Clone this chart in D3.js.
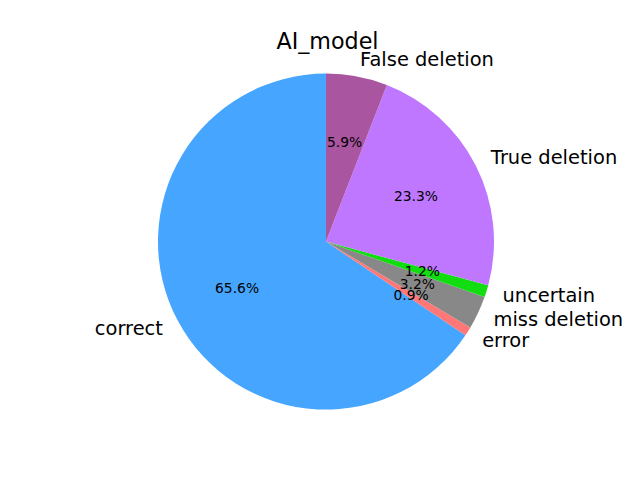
<!DOCTYPE html>
<html><head><meta charset="utf-8">
<script src="https://cdn.jsdelivr.net/npm/d3@7"></script>
<style>body{margin:0;background:#fff}</style>
</head><body>
<script>
const categories = ["correct", "error", "miss deletion", "uncertain", "True deletion", "False deletion"];
const values = [65.58, 0.88, 3.18, 1.18, 23.28, 5.90];
const colors = ["#45a5ff", "#ff7777", "#888888", "#11dd11", "#bf77ff", "#aa55a0"];
const title = "AI_model";

const W = 640, H = 480;
const svg = d3.select("body").append("svg").attr("width", W).attr("height", H)
  .style("font-family", "'DejaVu Sans', sans-serif");
const cx = 326, cy = 241.6, R = 168;
const g = svg.append("g").attr("transform", `translate(${cx},${cy})`);

const total = d3.sum(values);
const pie = d3.pie().sort(null).startAngle(0).endAngle(-2 * Math.PI);
const arcs = pie(values);
const arc = d3.arc().innerRadius(0).outerRadius(R);

g.selectAll("path").data(arcs).enter().append("path")
  .attr("d", arc).attr("fill", (d, i) => colors[i]);

const mid = d => (d.startAngle + d.endAngle) / 2;
g.selectAll("text.lab").data(arcs).enter().append("text").attr("class", "lab")
  .attr("x", d => Math.sin(mid(d)) * R * 1.1)
  .attr("y", d => -Math.cos(mid(d)) * R * 1.1)
  .attr("dy", "0.32em")
  .attr("text-anchor", d => Math.sin(mid(d)) > 0 ? "start" : "end")
  .attr("font-size", "19.44px")
  .text((d, i) => categories[i]);

g.selectAll("text.pct").data(arcs).enter().append("text").attr("class", "pct")
  .attr("x", d => Math.sin(mid(d)) * R * 0.6)
  .attr("y", d => -Math.cos(mid(d)) * R * 0.6)
  .attr("dy", "0.32em")
  .attr("text-anchor", "middle")
  .attr("font-size", "13.89px")
  .text(d => (d.value / total * 100).toFixed(1) + "%");

svg.append("text").attr("x", 327.5).attr("y", 49).attr("text-anchor", "middle")
  .attr("font-size", "22.22px").text(title);
</script>
</body></html>
